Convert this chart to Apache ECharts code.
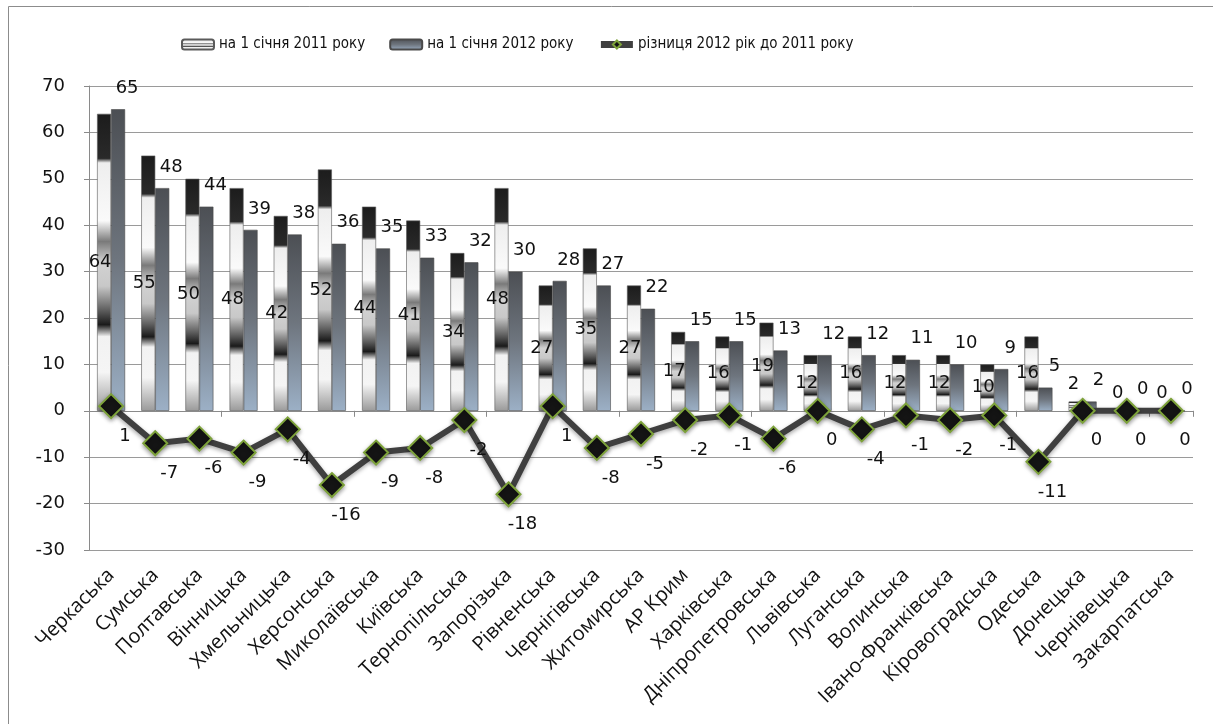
<!DOCTYPE html>
<html><head><meta charset="utf-8">
<script src="https://cdn.jsdelivr.net/npm/echarts@6/dist/echarts.min.js"></script>
<style>html,body{margin:0;padding:0;background:#fff}#c{width:1213px;height:724px}</style>
</head><body><div id="c"></div>
<script>
const categories = ['Черкаська','Сумська','Полтавська','Вінницька','Хмельницька','Херсонська','Миколаївська','Київська','Тернопільська','Запорізька','Рівненська','Чернігівська','Житомирська','АР Крим','Харківська','Дніпропетровська','Львівська','Луганська','Волинська','Івано-Франківська','Кіровоградська','Одеська','Донецька','Чернівецька','Закарпатська'];
const values2011 = [64,55,50,48,42,52,44,41,34,48,27,35,27,17,16,19,12,16,12,12,10,16,2,0,0];
const values2012 = [65,48,44,39,38,36,35,33,32,30,28,27,22,15,15,13,12,12,11,10,9,5,2,0,0];
const diffValues = [1,-7,-6,-9,-4,-16,-9,-8,-2,-18,1,-8,-5,-2,-1,-6,0,-4,-1,-2,-1,-11,0,0,0];
const seriesNames = ['на 1 січня 2011 року','на 1 січня 2012 року','різниця 2012 рік до 2011 року'];
const yTicks = {min:-30, max:70, interval:10};

const narrow = "'Liberation Sans Narrow','DejaVu Sans Condensed','Open Sans',sans-serif";
const wide = "'DejaVu Sans',sans-serif";

const grad2011 = new echarts.graphic.LinearGradient(0,0,0,1,[
  {offset:0,color:'#1c1c1c'},{offset:0.15,color:'#2a2a2a'},{offset:0.165,color:'#eeeeee'},
  {offset:0.36,color:'#fafafa'},{offset:0.43,color:'#7a7a7a'},{offset:0.5,color:'#d2d2d2'},
  {offset:0.58,color:'#c8c8c8'},{offset:0.66,color:'#606060'},{offset:0.71,color:'#1a1a1a'},
  {offset:0.75,color:'#f2f2f2'},{offset:0.87,color:'#f5f5f5'},{offset:1,color:'#9a9a9a'}
]);
const grad2012 = new echarts.graphic.LinearGradient(0,0,0,1,[
  {offset:0,color:'#4c4f54'},{offset:0.5,color:'#6e757e'},{offset:1,color:'#9cb0c6'}
]);

const data2011 = values2011.map(v => v < 5 ? {value:v, label:{position:'top', distance:8, offset:[-2,0]}} : v);

const chart = echarts.init(document.getElementById('c'));
chart.setOption({
  animation:false,
  graphic:[{type:'rect', shape:{x:8.5,y:6.5,width:1220,height:730}, style:{fill:'none', stroke:'#8c8c8c', lineWidth:1}, silent:true}],
  legend:{
    top:32, left:176, itemWidth:32, itemHeight:10, itemGap:24,
    textStyle:{fontFamily:narrow, fontSize:15, color:'#111'},
    data:[{name:seriesNames[0]},{name:seriesNames[1]},{name:seriesNames[2], lineStyle:{width:7}}]
  },
  grid:{left:89, right:20, top:86, bottom:174},
  xAxis:[
    {type:'category', data:categories, position:'bottom',
     axisLine:{onZero:true, lineStyle:{color:'#8a8a8a', width:1}},
     axisTick:{show:true, length:6, lineStyle:{color:'#8a8a8a'}},
     axisLabel:{show:false}},
    {type:'category', data:categories, position:'bottom',
     axisLine:{show:false, onZero:false}, axisTick:{show:false},
     axisLabel:{interval:0, rotate:45, margin:22, fontSize:20, color:'#111', fontFamily:"'Open Sans',sans-serif"}}
  ],
  yAxis:{type:'value', min:yTicks.min, max:yTicks.max, interval:yTicks.interval,
    axisLine:{show:true, lineStyle:{color:'#8a8a8a'}},
    axisTick:{show:true, length:5, lineStyle:{color:'#8a8a8a'}},
    axisLabel:{fontSize:18, color:'#111', margin:24, fontFamily:wide},
    splitLine:{lineStyle:{color:'#9a9a9a', width:1}}},
  series:[
    {name:seriesNames[0], type:'bar', data:data2011, barWidth:14, barGap:'0%',
     itemStyle:{color:grad2011, borderColor:'#5a5a5a', borderWidth:0.6},
     label:{show:true, position:'inside', offset:[-4,0], fontSize:18, color:'#111', fontFamily:wide}},
    {name:seriesNames[1], type:'bar', data:values2012, barWidth:14,
     itemStyle:{color:grad2012, borderColor:'#4a4a4a', borderWidth:0.6},
     label:{show:true, position:'top', distance:12, offset:[9,0], fontSize:18, color:'#111', fontFamily:wide}},
    {name:seriesNames[2], type:'line', data:diffValues, z:5,
     lineStyle:{color:'#3f3f3f', width:6, shadowColor:'rgba(0,0,0,0.35)', shadowBlur:4, shadowOffsetY:2},
     symbol:'diamond', symbolSize:24,
     itemStyle:{color:'#141414', borderColor:'#7da23a', borderWidth:2, shadowColor:'rgba(0,0,0,0.35)', shadowBlur:4, shadowOffsetY:2},
     label:{show:true, position:'bottom', distance:8, offset:[14,0], fontSize:18, color:'#111', fontFamily:wide}}
  ]
});
</script></body></html>
